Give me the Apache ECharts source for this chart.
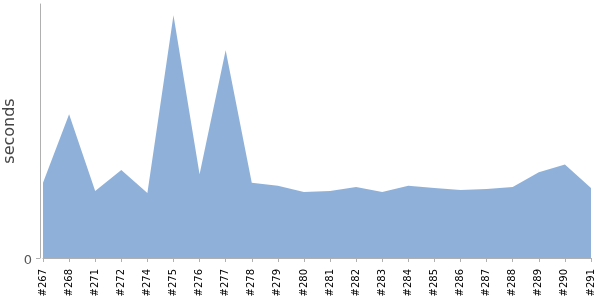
<!DOCTYPE html>
<html><head><meta charset="utf-8">
<script src="https://cdn.jsdelivr.net/npm/echarts@6/dist/echarts.min.js"></script>
<style>html,body{margin:0;padding:0;background:#fff}#c{width:600px;height:300px}</style>
</head><body><div id="c"></div>
<script>
const builds = ['#267','#268','#271','#272','#274','#275','#276','#277','#278','#279','#280','#281','#282','#283','#284','#285','#286','#287','#288','#289','#290','#291'];
const seconds = [14.8,28.3,13.2,17.3,12.8,47.8,16.5,40.9,14.8,14.2,13.0,13.2,14.0,13.0,14.2,13.8,13.4,13.6,14.0,16.9,18.4,13.8];
const yTicks = [0];

const chart = echarts.init(document.getElementById('c'), null, {renderer:'canvas'});
chart.setOption({
  animation:false,
  textStyle:{fontFamily:'DejaVu Sans'},
  grid:{left:43,right:9,top:4,bottom:42,containLabel:false,outerBoundsMode:'none'},
  xAxis:{
    type:'category', data:builds, boundaryGap:false, offset:5,
    axisLine:{lineStyle:{color:'#b0b0b0',width:1}},
    axisTick:{show:true,length:4,lineStyle:{color:'#b0b0b0'},alignWithLabel:true},
    axisLabel:{rotate:90,fontSize:10,color:'#000',margin:6,interval:0}
  },
  yAxis:{
    type:'value', min:0, max:50, offset:3,
    name:'seconds', nameLocation:'middle', nameGap:22, nameRotate:90, nameMoveOverlap:false,
    nameTextStyle:{fontSize:16,color:'#444',fontFamily:'DejaVu Sans'},
    axisLine:{show:true,lineStyle:{color:'#b0b0b0',width:1}},
    axisTick:{show:true,length:4,lineStyle:{color:'#b0b0b0'},customValues:yTicks},
    axisLabel:{fontSize:13,color:'#555',margin:8,customValues:yTicks,
      formatter:'{a|{value}}', rich:{a:{fontSize:13,color:'#555',padding:[5,0,0,0]}}},
    splitLine:{show:false}
  },
  series:[{
    type:'line', data:seconds, symbol:'none',
    lineStyle:{width:0,color:'#8fb1d9'},
    areaStyle:{color:'#8fb1d9',opacity:1}
  }]
});
</script></body></html>
